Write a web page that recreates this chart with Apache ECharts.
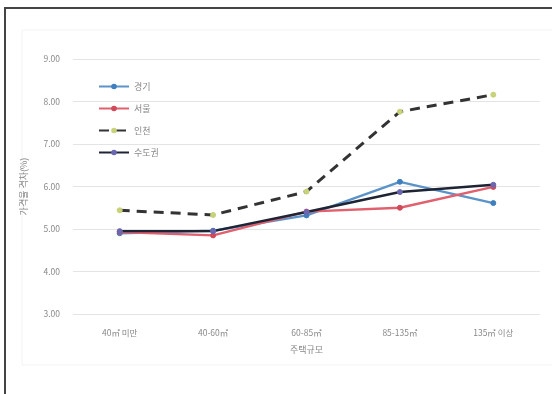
<!DOCTYPE html>
<html>
<head>
<meta charset="utf-8">
<script src="https://cdn.jsdelivr.net/npm/echarts@6/dist/echarts.min.js"></script>
<style>
  html, body { margin: 0; padding: 0; background: #fff; }
  #chart { width: 552px; height: 394px; }
</style>
</head>
<body>
<div id="chart"></div>
<script>
// 주택규모별 가격율 격차
const categories = ['40㎡ 미만', '40-60㎡', '60-85㎡', '85-135㎡', '135㎡ 이상'];
const gyeonggi = [4.90, 4.96, 5.32, 6.11, 5.61];
const seoul    = [4.93, 4.85, 5.41, 5.50, 5.99];
const incheon  = [5.44, 5.33, 5.88, 7.76, 8.16];
const capital  = [4.95, 4.95, 5.40, 5.87, 6.04];
const yTicks = [3, 4, 5, 6, 7, 8, 9];

const chart = echarts.init(document.getElementById('chart'), null, { renderer: 'canvas' });

function lineSeries(name, data, color, markerColor, dashed) {
  return {
    name: name,
    type: 'line',
    data: data,
    symbol: 'circle',
    symbolSize: 5,
    showSymbol: true,
    lineStyle: { color: color, width: dashed ? 3 : 2.4, type: dashed ? [10, 7] : 'solid' },
    itemStyle: { color: markerColor, borderColor: markerColor },
    z: dashed ? 3 : 4
  };
}

chart.setOption({
  animation: false,
  backgroundColor: '#fff',
  textStyle: { fontFamily: 'Noto Sans CJK KR, Noto Sans, sans-serif' },
  graphic: [
    {
      type: 'rect',
      shape: { x: 5, y: 8, width: 600, height: 420 },
      style: { fill: 'none', stroke: '#444', lineWidth: 2 },
      silent: true, z: 0
    },
    {
      type: 'rect',
      shape: { x: 22, y: 30, width: 600, height: 335 },
      style: { fill: 'none', stroke: '#f3f3f3', lineWidth: 1 },
      silent: true, z: 0
    }
  ],
  grid: { left: 73, right: 12, top: 59, bottom: 80 },
  legend: {
    orient: 'vertical',
    left: 93,
    top: 77,
    itemGap: 13,
    itemWidth: 30,
    itemHeight: 7,
    textStyle: { color: '#888', fontSize: 9 },
    data: ['경기', '서울', '인천', '수도권']
  },
  xAxis: {
    type: 'category',
    data: categories,
    boundaryGap: true,
    name: '주택규모',
    nameLocation: 'middle',
    nameGap: 31,
    nameTextStyle: { color: '#888', fontSize: 9 },
    axisLine: { show: false },
    axisTick: { show: false },
    axisLabel: { color: '#888', fontSize: 8.5, margin: 15 }
  },
  yAxis: {
    type: 'value',
    min: yTicks[0],
    max: yTicks[yTicks.length - 1],
    interval: 1,
    name: '가격율 격차(%)',
    nameLocation: 'middle',
    nameGap: 45,
    nameTextStyle: { color: '#888', fontSize: 9 },
    axisLine: { show: false },
    axisTick: { show: false },
    axisLabel: { color: '#888', fontSize: 8.5, margin: 13, formatter: v => v.toFixed(2) },
    splitLine: { lineStyle: { color: '#e4e4e4', width: 1 } }
  },
  series: [
    lineSeries('경기', gyeonggi, '#5b93c9', '#3f7fbf', false),
    lineSeries('서울', seoul, '#e0606e', '#d04a5a', false),
    lineSeries('인천', incheon, '#333333', '#c8d27a', true),
    lineSeries('수도권', capital, '#1e2433', '#6a66b0', false)
  ]
});
</script>
</body>
</html>
